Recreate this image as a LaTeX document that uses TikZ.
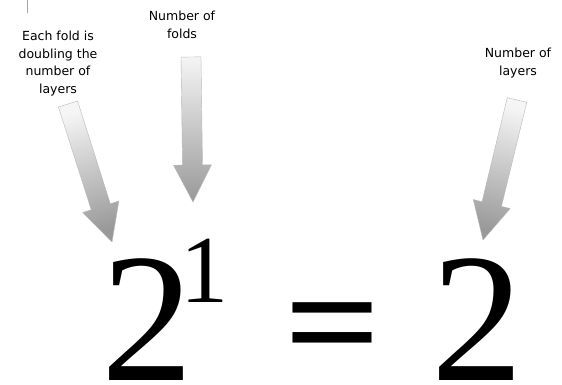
\documentclass[tikz,border=0pt]{standalone}
\usepackage{fontspec}
\setmainfont{Liberation Serif}
\newfontfamily\handfont{DejaVu Sans}
\usetikzlibrary{calc}

\tikzset{
  notelabel/.style={align=center, inner sep=0pt, anchor=north,
    font=\handfont\fontsize{12.5}{17.5}\selectfont},
  bigdigit/.style={inner sep=0pt, anchor=base, font=\fontsize{184}{184}\selectfont},
  smalldigit/.style={inner sep=0pt, anchor=base, font=\fontsize{96}{96}\selectfont},
  foldfill/.style={draw=gray!55, line width=0.4pt, top color=gray!8, bottom color=gray!80}
}

% 粗箭头：#1 尾, #2 尖, #3 渐变角度
\newcommand\foldarrow[3]{%
  \coordinate (#1h) at ($(#2)!37pt!(#1)$);
  \shade[foldfill, shading angle=#3]
    ($(#1)!10pt!90:(#2)$) -- ($(#1h)!10pt!90:(#2)$) -- ($(#1h)!19pt!90:(#2)$)
    -- (#2) -- ($(#1h)!19pt!-90:(#2)$) -- ($(#1h)!10pt!-90:(#2)$)
    -- ($(#1)!10pt!-90:(#2)$) -- cycle;
}

\begin{document}
\begin{tikzpicture}[x=1pt, y=-1pt, line cap=round, line join=round]

  %% ════ 背景 / 画布 ════
  \path[use as bounding box, fill=white] (0,0) rectangle (562,385);
  \draw[gray!70, line width=0.8pt] (27,0) -- (27,13);

  %% ════ 标签 ════
  \node[notelabel] (eachlabel) at (58,31) {Each fold is\\doubling the\\number of\\layers};
  \node[notelabel] (foldslabel) at (182,11) {Number of\\folds};
  \node[notelabel] (layerslabel) at (518,48) {Number of\\layers};

  %% ════ 式子 2^1 = 2 ════
  \node[bigdigit] (base) at (147,380) {2};
  \node[smalldigit] (expo) at (204,302) {1};
  \node[inner sep=0pt, xscale=1, yscale=0.88, font=\bfseries\fontsize{170}{170}\selectfont] (eqsign) at (333,338) {=};
  \node[bigdigit] (result) at (477,380) {2};

  %% ════ 箭头 ════
  \coordinate (eachtail) at (68,104);
  \coordinate (eachtip) at (112,242);
  \coordinate (foldstail) at (191,57);
  \coordinate (foldstip) at (193,202);
  \coordinate (layerstail) at (517,100);
  \coordinate (layerstip) at (483,240);

  \foldarrow{eachtail}{eachtip}{18}
  \foldarrow{foldstail}{foldstip}{0}
  \foldarrow{layerstail}{layerstip}{-14}

\end{tikzpicture}
\end{document}
